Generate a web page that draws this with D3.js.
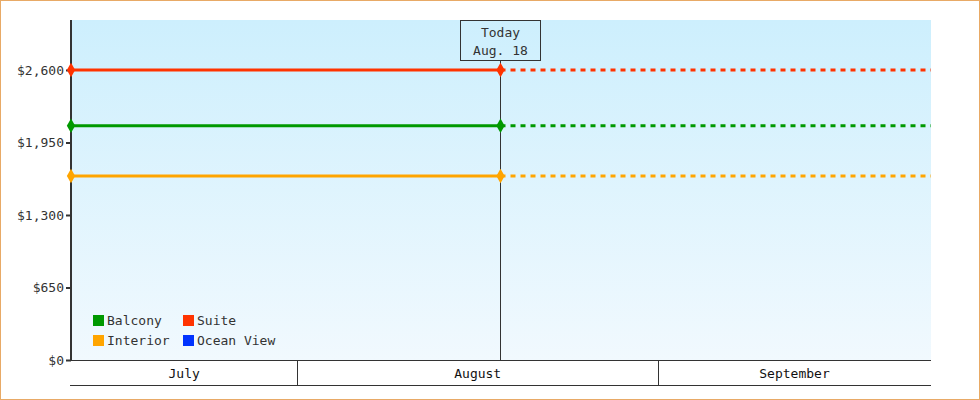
<!DOCTYPE html>
<html><head><meta charset="utf-8">
<script src="https://cdn.jsdelivr.net/npm/d3@7"></script>
<style>
html,body{margin:0;padding:0;background:#fff;}
svg{display:block;font-family:"DejaVu Sans Mono",monospace;}
</style></head>
<body><svg id="c" width="980" height="400"></svg>
<script>
const seriesNames = ["Balcony", "Suite", "Interior", "Ocean View"];
const seriesColors = ["#009900", "#ff3300", "#ffa500", "#0033ff"];
const seriesValues = [2100, 2600, 1650, null];
const startDate = "2024-07-12T13:00";
const todayDate = "2024-08-18T10:00";
const endDate = "2024-09-24T11:00";
const yTicks = [0, 650, 1300, 1950, 2600];
const yMax = 3048;
const months = [["July","2024-07-12T13:00","2024-08-01T00:00"],["August","2024-08-01T00:00","2024-09-01T00:00"],["September","2024-09-01T00:00","2024-09-24T11:00"]];
const todayLabel = ["Today", "Aug. 18"];

const svg = d3.select("#c");
const L = 71, R = 931, T = 20, B = 360;
const x = d3.scaleTime().domain([new Date(startDate), new Date(endDate)]).range([L, R]);
const y = d3.scaleLinear().domain([0, yMax]).range([B, T]);
const tx = Math.round(x(new Date(todayDate)));

// border
svg.append("rect").attr("x",0.5).attr("y",0.5).attr("width",979).attr("height",399)
  .attr("fill","#fff").attr("stroke","#e8aa66").attr("stroke-width",1);

const defs = svg.append("defs");
const g = defs.append("linearGradient").attr("id","bg").attr("x1",0).attr("y1",0).attr("x2",0).attr("y2",1);
g.append("stop").attr("offset","0%").attr("stop-color","#cdeffd");
g.append("stop").attr("offset","100%").attr("stop-color","#f1f9fe");
svg.append("rect").attr("x",L).attr("y",T).attr("width",R-L).attr("height",B-T).attr("fill","url(#bg)");

// y axis
const yAxis = svg.append("g").attr("transform",`translate(${L},0)`)
  .call(d3.axisLeft(y).tickValues(yTicks).tickSize(5).tickPadding(2).tickFormat(d=>"$"+d3.format(",")(d)));
yAxis.select(".domain").remove();
yAxis.selectAll(".tick line").attr("stroke","#333").attr("stroke-width",2);
yAxis.selectAll(".tick text").attr("fill","#333").style("font-size","13px").style("font-family","DejaVu Sans Mono, monospace");
svg.append("line").attr("x1",L).attr("x2",L).attr("y1",T).attr("y2",B+1).attr("stroke","#333").attr("stroke-width",2);

// x axis month bands
const xa = svg.append("g");
xa.append("line").attr("x1",L-1).attr("x2",R).attr("y1",B+0.5).attr("y2",B+0.5).attr("stroke","#333");
xa.append("line").attr("x1",L-1).attr("x2",R).attr("y1",385.5).attr("y2",385.5).attr("stroke","#333");
months.forEach((m,i)=>{
  const a = x(new Date(m[1])), b = x(new Date(m[2]));
  if(i>0) xa.append("line").attr("x1",Math.round(a)+0.5).attr("x2",Math.round(a)+0.5).attr("y1",B).attr("y2",385).attr("stroke","#333");
  xa.append("text").attr("x",(a+b)/2).attr("y",378).attr("text-anchor","middle")
    .attr("fill","#111").style("font-size","13px").text(m[0]);
});

// today line and box
svg.append("line").attr("x1",tx+0.5).attr("x2",tx+0.5).attr("y1",60).attr("y2",B).attr("stroke","#333");
svg.append("rect").attr("x",tx-40+0.5).attr("y",20.5).attr("width",80).attr("height",40).attr("fill","none").attr("stroke","#333");
todayLabel.forEach((t,i)=>svg.append("text").attr("x",tx+0.5).attr("y",37+i*18).attr("text-anchor","middle")
  .attr("fill","#333").style("font-size","13px").text(t));

// series
const diamond = d3.symbol().type(d3.symbolDiamond).size(60);
seriesValues.forEach((v,i)=>{
  if(v==null) return;
  const yy = y(v), c = seriesColors[i];
  svg.append("line").attr("x1",L).attr("x2",tx+0.5).attr("y1",yy).attr("y2",yy).attr("stroke",c).attr("stroke-width",3);
  svg.append("line").attr("x1",tx+0.5).attr("x2",R).attr("y1",yy).attr("y2",yy).attr("stroke",c).attr("stroke-width",3).attr("stroke-dasharray","5,5");
  [L, tx+0.5].forEach(px=>svg.append("path").attr("d",diamond).attr("transform",`translate(${px},${yy})`).attr("fill",c));
});

// legend
seriesNames.forEach((n,i)=>{
  const col = i%2, row = Math.floor(i/2);
  const lx = 93 + col*90, ly = 315 + row*20;
  svg.append("rect").attr("x",lx).attr("y",ly).attr("width",11).attr("height",11).attr("fill",seriesColors[i]);
  svg.append("text").attr("x",lx+14).attr("y",ly+10).attr("fill","#333").style("font-size","13px").text(n);
});
</script></body></html>
